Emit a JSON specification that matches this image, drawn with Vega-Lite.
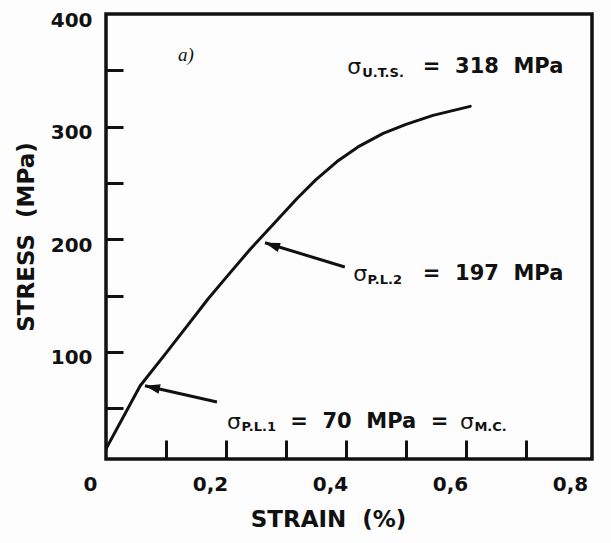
{
  "$schema": "https://vega.github.io/schema/vega-lite/v6.json",
  "width": 486,
  "height": 445,
  "autosize": "none",
  "padding": {"left": 106, "top": 14, "right": 19, "bottom": 84},
  "background": "#fdfdfd",
  "config": {
    "view": {"stroke": "#111", "strokeWidth": 3.5},
    "font": "DejaVu Sans"
  },
  "datasets": {
    "curve": [
      {"strain": 0.0, "stress": 14},
      {"strain": 0.057, "stress": 70},
      {"strain": 0.1, "stress": 99},
      {"strain": 0.135, "stress": 123},
      {"strain": 0.17, "stress": 147},
      {"strain": 0.2, "stress": 166},
      {"strain": 0.24, "stress": 191},
      {"strain": 0.28, "stress": 214},
      {"strain": 0.318, "stress": 236},
      {"strain": 0.35, "stress": 253},
      {"strain": 0.385, "stress": 269},
      {"strain": 0.42, "stress": 282},
      {"strain": 0.462, "stress": 294},
      {"strain": 0.5, "stress": 302},
      {"strain": 0.545, "stress": 310},
      {"strain": 0.607, "stress": 318}
    ],
    "arrows": [
      {"arrow": "pl1", "strain": 0.185, "stress": 55.6},
      {"arrow": "pl1", "strain": 0.065, "stress": 70},
      {"arrow": "pl2", "strain": 0.398, "stress": 175.4},
      {"arrow": "pl2", "strain": 0.265, "stress": 197}
    ],
    "sigmas": [
      {"strain": 0.402, "stress": 353},
      {"strain": 0.412, "stress": 169},
      {"strain": 0.2017, "stress": 38},
      {"strain": 0.59, "stress": 38}
    ],
    "subscripts": [
      {"strain": 0.427, "stress": 348, "sub": "U.T.S."},
      {"strain": 0.436, "stress": 164, "sub": "P.L.2"},
      {"strain": 0.226, "stress": 33, "sub": "P.L.1"},
      {"strain": 0.614, "stress": 33, "sub": "M.C."}
    ],
    "values": [
      {"strain": 0.528, "stress": 353, "label": "=\u00a0\u00a0318\u00a0\u00a0MPa"},
      {"strain": 0.528, "stress": 169, "label": "=\u00a0\u00a0197\u00a0\u00a0MPa"},
      {"strain": 0.307, "stress": 38, "label": "=\u00a0\u00a070\u00a0\u00a0MPa\u00a0\u00a0="}
    ],
    "panel": [
      {"strain": 0.12, "stress": 364, "label": "a)"}
    ]
  },
  "layer": [
    {
      "data": {"name": "curve"},
      "mark": {"type": "line", "color": "#111", "strokeWidth": 3, "strokeJoin": "round", "strokeCap": "round", "clip": true},
      "encoding": {
        "x": {
          "field": "strain", "type": "quantitative",
          "scale": {"domain": [0, 0.81], "nice": false, "zero": false},
          "axis": {
            "values": [0, 0.1, 0.2, 0.3, 0.4, 0.5, 0.6, 0.7, 0.8],
            "domain": false, "grid": false,
            "tickSize": -19, "tickWidth": 3, "tickColor": "#111",
            "tickOpacity": {"condition": {"test": "datum.value == 0 || datum.value >= 0.8", "value": 0}, "value": 1},
            "labelExpr": "datum.value == 0 ? '0' : (round(datum.value * 10) % 2 == 0 ? replace(format(datum.value, '.1f'), '.', ',') : '')",
            "labelFont": "DejaVu Sans", "labelFontWeight": "bold", "labelFontSize": 20, "labelColor": "#111",
            "labelPadding": 34, "labelOffset": -16, "labelFlush": false, "labelOverlap": false,
            "title": "STRAIN\u00a0\u00a0(%)",
            "titleFont": "DejaVu Sans", "titleFontWeight": "bold", "titleFontSize": 23, "titleColor": "#111",
            "titlePadding": 14, "titleX": 222
          }
        },
        "y": {
          "field": "stress", "type": "quantitative",
          "scale": {"domain": [5, 400], "nice": false, "zero": false},
          "axis": {
            "values": [50, 100, 150, 200, 250, 300, 350, 400],
            "domain": false, "grid": false,
            "tickSize": -17, "tickWidth": 3, "tickColor": "#111",
            "tickOpacity": {"condition": {"test": "datum.value >= 400", "value": 0}, "value": 1},
            "labelExpr": "datum.value % 100 == 0 ? datum.value : ''",
            "labelFont": "DejaVu Sans", "labelFontWeight": "bold", "labelFontSize": 20, "labelColor": "#111",
            "labelPadding": 31, "labelOffset": 6, "labelFlush": false, "labelOverlap": false,
            "title": "STRESS\u00a0\u00a0(MPa)",
            "titleFont": "DejaVu Sans", "titleFontWeight": "bold", "titleFontSize": 23, "titleColor": "#111",
            "titlePadding": 12
          }
        }
      }
    },
    {
      "data": {"name": "arrows"},
      "mark": {"type": "line", "color": "#111", "strokeWidth": 3},
      "encoding": {
        "x": {"field": "strain", "type": "quantitative"},
        "y": {"field": "stress", "type": "quantitative"},
        "detail": {"field": "arrow"}
      }
    },
    {
      "data": {"name": "arrows"},
      "transform": [{"filter": "datum.arrow == 'pl1'"}, {"filter": "datum.strain < 0.1"}],
      "mark": {"type": "point", "shape": "M0,0L0.32,1L-0.32,1Z", "filled": true, "color": "#111", "opacity": 1, "size": 900, "angle": 282.5},
      "encoding": {
        "x": {"field": "strain", "type": "quantitative"},
        "y": {"field": "stress", "type": "quantitative"}
      }
    },
    {
      "data": {"name": "arrows"},
      "transform": [{"filter": "datum.arrow == 'pl2'"}, {"filter": "datum.strain < 0.3"}],
      "mark": {"type": "point", "shape": "M0,0L0.32,1L-0.32,1Z", "filled": true, "color": "#111", "opacity": 1, "size": 900, "angle": 288.4},
      "encoding": {
        "x": {"field": "strain", "type": "quantitative"},
        "y": {"field": "stress", "type": "quantitative"}
      }
    },
    {
      "data": {"name": "sigmas"},
      "mark": {"type": "text", "text": "σ", "font": "DejaVu Sans", "fontSize": 22, "align": "left", "baseline": "middle", "color": "#111"},
      "encoding": {
        "x": {"field": "strain", "type": "quantitative"},
        "y": {"field": "stress", "type": "quantitative"}
      }
    },
    {
      "data": {"name": "subscripts"},
      "mark": {"type": "text", "font": "DejaVu Sans", "fontWeight": "bold", "fontSize": 13, "align": "left", "baseline": "middle", "color": "#111"},
      "encoding": {
        "x": {"field": "strain", "type": "quantitative"},
        "y": {"field": "stress", "type": "quantitative"},
        "text": {"field": "sub"}
      }
    },
    {
      "data": {"name": "values"},
      "mark": {"type": "text", "font": "DejaVu Sans", "fontWeight": "bold", "fontSize": 21, "align": "left", "baseline": "middle", "color": "#111"},
      "encoding": {
        "x": {"field": "strain", "type": "quantitative"},
        "y": {"field": "stress", "type": "quantitative"},
        "text": {"field": "label"}
      }
    },
    {
      "data": {"name": "panel"},
      "mark": {"type": "text", "font": "Liberation Serif", "fontStyle": "italic", "fontSize": 19, "align": "left", "baseline": "middle", "color": "#111"},
      "encoding": {
        "x": {"field": "strain", "type": "quantitative"},
        "y": {"field": "stress", "type": "quantitative"},
        "text": {"field": "label"}
      }
    }
  ]
}
